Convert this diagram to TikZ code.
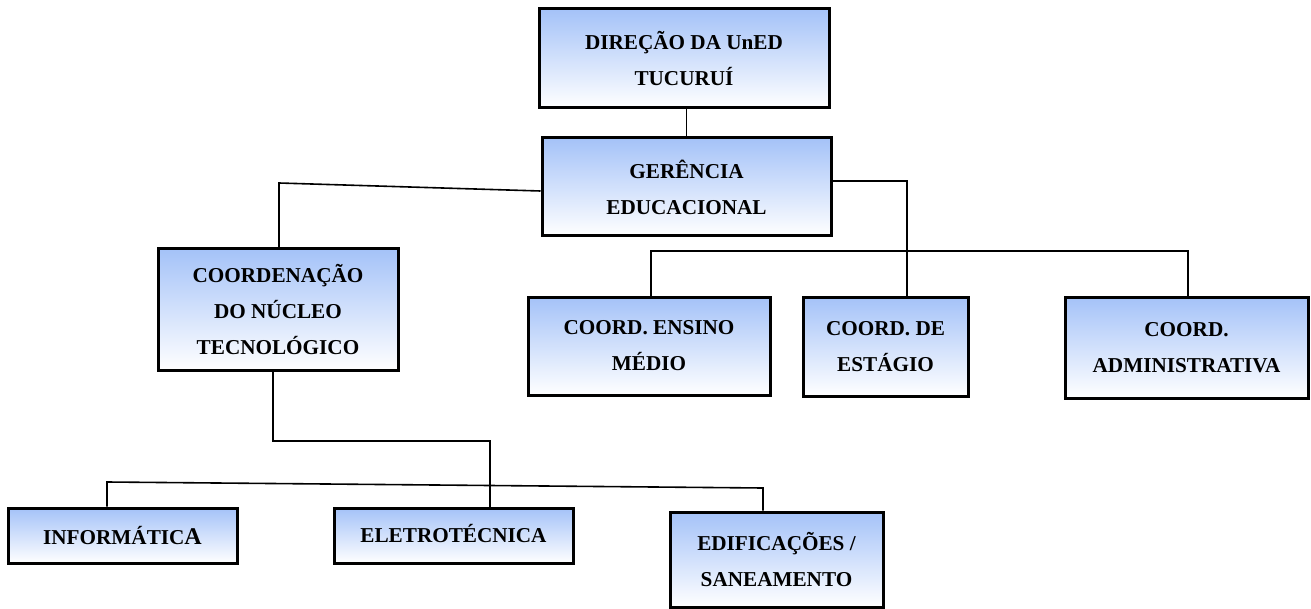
\documentclass[tikz,border=0pt]{standalone}
\usepackage{fontspec}
\setmainfont{Liberation Serif}
\begin{document}
\begin{tikzpicture}[x=0.5pt,y=-0.5pt,
  orgbox/.style={draw=black, line width=1.5pt, rectangle, inner sep=0pt,
    top color={rgb,255:red,164;green,194;blue,248}, bottom color=white,
    align=center, font=\fontsize{10.6}{18}\selectfont\bfseries},
  conn/.style={draw=black, line width=0.8pt}]
\useasboundingbox (0,0) rectangle (1311,609);
% boxes
\node[orgbox, minimum width=145pt, minimum height=49.5pt] (dir) at (684,58.5) {DIREÇÃO DA UnED\\TUCURUÍ};
\node[orgbox, minimum width=144.5pt, minimum height=49pt] (ger) at (686.5,187) {GERÊNCIA\\EDUCACIONAL};
\node[orgbox, minimum width=120pt, minimum height=60.5pt] (nuc) at (278,309.5) {COORDENAÇÃO\\DO NÚCLEO\\TECNOLÓGICO};
\node[orgbox, minimum width=121pt, minimum height=49pt] (ens) at (649,346) {COORD. ENSINO\\MÉDIO};
\node[orgbox, minimum width=82.5pt, minimum height=49.5pt] (est) at (885.5,346.5) {COORD. DE\\ESTÁGIO};
\node[orgbox, minimum width=121.5pt, minimum height=50.5pt] (adm) at (1186.5,347.5) {COORD.\\ADMINISTRATIVA};
\node[orgbox, minimum width=114.5pt, minimum height=27.5pt] (inf) at (122.5,535.5) {\raisebox{-1.5pt}{INFORMÁTIC\kern0pt{\fontsize{12}{18}\selectfont A}}};
\node[orgbox, minimum width=119.5pt, minimum height=27.5pt] (ele) at (453.5,535.5) {\raisebox{2pt}{ELETROTÉCNICA}};
\node[orgbox, minimum width=106.5pt, minimum height=47.5pt] (edi) at (776.5,559.5) {EDIFICAÇÕES /\\SANEAMENTO};
% junction coordinates
\coordinate (jl) at (279,183);
\coordinate (jr) at (907,181);
\coordinate (b1) at (651,251);
\coordinate (b2) at (1188,251);
\coordinate (c1) at (273,441);
\coordinate (c2) at (490,441);
\coordinate (d1) at (107,482);
\coordinate (d2) at (763,488);
% connectors
\draw[conn] (ger.north) -- (ger.north |- dir.south);
\draw[conn] ([yshift=-2pt]ger.west) -- (jl) -- (jl |- nuc.north);
\draw[conn] ([yshift=3pt]ger.east) -- (jr) -- (jr |- est.north);
\draw[conn] (b1 |- ens.north) -- (b1) -- (b2) -- (b2 |- adm.north);
\draw[conn] (c1 |- nuc.south) -- (c1) -- (c2) -- (c2 |- ele.north);
\draw[conn] (d1 |- inf.north) -- (d1) -- (d2) -- (d2 |- edi.north);
\end{tikzpicture}
\end{document}
